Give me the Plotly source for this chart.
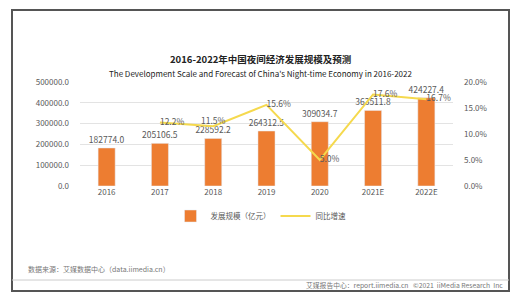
import plotly.graph_objects as go

years = ["2016", "2017", "2018", "2019", "2020", "2021E", "2022E"]
scale = [182774.0, 205106.5, 228592.2, 264312.5, 309034.7, 363511.8, 424227.4]
growth = [None, 12.2, 11.5, 15.6, 5.0, 17.6, 16.7]
left_ticks = [0, 100000, 200000, 300000, 400000, 500000]
right_ticks = [0, 0.05, 0.10, 0.15, 0.20]

W, H = 522, 299
def px(x): return x / W
def py(y): return 1 - y / H

FONT = "Noto Sans CJK SC, Open Sans, sans-serif"
GRAY = "#595959"

fig = go.Figure()
fig.add_trace(go.Bar(
    x=years, y=scale, name="发展规模（亿元）",
    marker_color="#ED7D31", width=0.32,
    text=[f"{v:.1f}" for v in scale], textposition="outside",
    constraintext="none",
    textfont=dict(size=8.5, color=GRAY, family=FONT), cliponaxis=False,
))
gvals = [g / 100 if g is not None else None for g in growth]
fig.add_trace(go.Scatter(
    x=years, y=gvals, name="同比增速", yaxis="y2", mode="lines+text",
    line=dict(color="#F5D94E", width=2),
    text=["" if g is None else f"{g:.1f}%" for g in growth],
    textposition=["middle right", "middle right", "top center", "middle right",
                  "middle right", "middle right", "middle right"],
    textfont=dict(size=8.5, color=GRAY, family=FONT), cliponaxis=False,
))

fig.update_layout(
    width=W, height=H, margin=dict(l=0, r=0, t=0, b=0, autoexpand=False),
    paper_bgcolor="white", plot_bgcolor="white",
    font=dict(family=FONT, color=GRAY, size=8),
    showlegend=True,
    xaxis=dict(domain=[px(80), px(453)], showgrid=False, showline=False,
               ticks="", tickfont=dict(size=8, color=GRAY), anchor="y",
               automargin=False),
    yaxis=dict(domain=[py(186), py(82)], range=[0, 500000],
               tickvals=left_ticks, ticktext=[f"{v:.1f}" for v in left_ticks],
               showgrid=True, gridcolor="#E3E3E3", gridwidth=1, zeroline=False,
               tickfont=dict(size=8, color=GRAY), ticklabelstandoff=10,
               automargin=False),
    yaxis2=dict(overlaying="y", side="right", range=[0, 0.2],
                tickvals=right_ticks, ticktext=[f"{v*100:.1f}%" for v in right_ticks],
                showgrid=False, zeroline=False,
                tickfont=dict(size=8, color=GRAY), ticklabelstandoff=10,
                anchor="x", automargin=False),
    legend=dict(orientation="h", x=0.5, xanchor="center", y=py(216), yanchor="middle",
                font=dict(size=7.5, color=GRAY), bgcolor="rgba(0,0,0,0)",
                itemwidth=30, tracegroupgap=0),
    shapes=[
        dict(type="rect", xref="paper", yref="paper", x0=px(12), x1=px(509),
             y0=py(291), y1=py(10), line=dict(color="#555555", width=2)),
        dict(type="line", xref="paper", yref="paper", x0=px(12), x1=px(509),
             y0=py(280), y1=py(280), line=dict(color="#CCCCCC", width=1)),
    ],
    annotations=[
        dict(text="<b>2016-2022年中国夜间经济发展规模及预测</b>", x=px(260), y=py(59),
             xref="paper", yref="paper", showarrow=False, yanchor="middle",
             font=dict(size=9.5, color="#222222", family=FONT)),
        dict(text="The Development Scale and Forecast of China's Night-time Economy in 2016-2022",
             x=px(260), y=py(73), xref="paper", yref="paper", showarrow=False,
             yanchor="middle", font=dict(size=8, color="#222222", family=FONT)),
        dict(text="数据来源：艾媒数据中心（data.iimedia.cn）", x=px(26), y=py(269),
             xref="paper", yref="paper", showarrow=False, xanchor="left", yanchor="middle",
             font=dict(size=7, color="#777777", family=FONT)),
        dict(text="艾媒报告中心：report.iimedia.cn   ©2021  iiMedia Research  Inc",
             x=px(505), y=py(285), xref="paper", yref="paper", showarrow=False,
             xanchor="right", yanchor="middle", font=dict(size=6.8, color="#777777", family=FONT)),
    ],
)

fig.write_html("out.html")
